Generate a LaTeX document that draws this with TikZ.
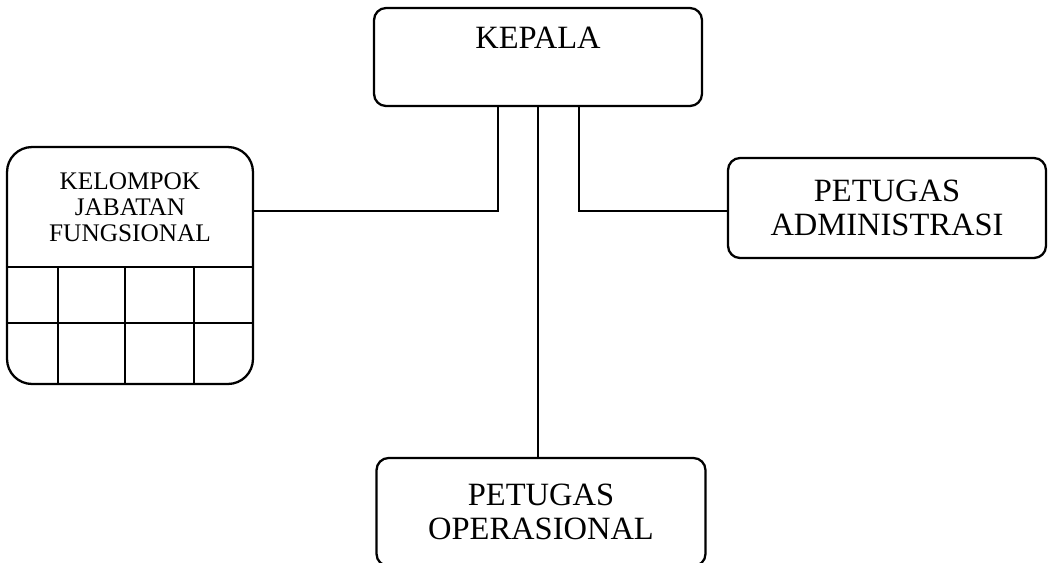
\documentclass[tikz,border=0pt]{standalone}
\usepackage{fontspec}
\setmainfont{Liberation Serif}
\usetikzlibrary{positioning}
\tikzset{
  kotak/.style={draw, line width=1.3pt, rounded corners=0.24cm, inner sep=0pt, align=center},
  garis/.style={line width=1.3pt},
}
\newcommand{\hurufbesar}{\fontsize{18.5}{19}\selectfont}
\newcommand{\hurufkecil}{\fontsize{14.4}{14.9}\selectfont}

\begin{document}
\begin{tikzpicture}[x=0.02cm, y=-0.02cm]
  \useasboundingbox (0,0) rectangle (1049,562);
  % kotak-kotak
  \node[kotak, minimum width=6.56cm, minimum height=1.96cm,
    label={[anchor=north, yshift=-0.4cm, inner sep=0pt, font=\hurufbesar]north:KEPALA}]
    (kepala) at (538,57) {};
  \node[kotak, minimum width=6.36cm, minimum height=2cm, font=\hurufbesar]
    (admin) at (887,208) {PETUGAS\\ADMINISTRASI};
  \node[kotak, minimum width=6.58cm, minimum height=2.16cm, font=\hurufbesar]
    (operasional) at (541,512) {PETUGAS\\OPERASIONAL};
  \node[kotak, rounded corners=0.5cm, minimum width=4.92cm, minimum height=4.74cm]
    (kelompok) at (130,265.5) {};
  \node[font=\hurufkecil, align=center, inner sep=0pt] (jabatan) at (130,207)
    {KELOMPOK\\JABATAN\\FUNGSIONAL};
  % kisi di bawah kelompok
  \draw[garis] (kelompok.west |- 0,267) -- (kelompok.east |- 0,267);
  \draw[garis] (kelompok.west |- 0,323) -- (kelompok.east |- 0,323);
  \foreach \x in {58,125,194}
    \draw[garis] (\x,267) -- (\x,0 |- kelompok.south);
  % garis penghubung
  \coordinate (kiri) at ([xshift=-0.8cm]kepala.south);
  \coordinate (kanan) at ([xshift=0.82cm]kepala.south);
  \draw[garis] (kiri) |- (kelompok.east |- 0,211);
  \draw[garis] (kanan) |- (admin.west |- 0,211);
  \draw[garis] (kepala.south) -- (kepala.south |- operasional.north);
\end{tikzpicture}
\end{document}
